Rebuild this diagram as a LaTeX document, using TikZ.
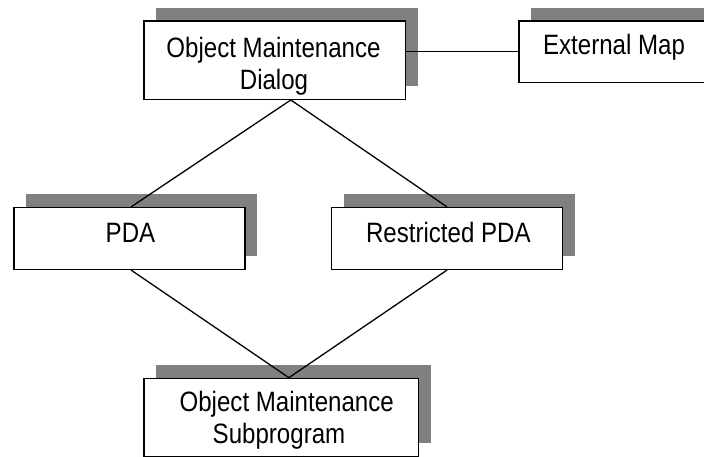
\documentclass[tikz,border=0pt]{standalone}
\usepackage{fontspec}
\setmainfont{Liberation Sans}[FakeStretch=0.86]
\usetikzlibrary{shadows}
\definecolor{shadowgray}{HTML}{808080}
\begin{document}
\begin{tikzpicture}[x=1pt,y=1pt,
  box/.style={draw=black, line width=1.3pt, fill=white, rectangle, inner sep=0pt,
    anchor=south west,
    drop shadow={shadow xshift=12.5pt, shadow yshift=13.5pt, fill=shadowgray, opacity=1}},
  conn/.style={draw=black, line width=1.3pt},
  lbl/.style={font=\fontsize{28}{33}\selectfont, anchor=base, inner sep=0pt}]
\useasboundingbox (0,0) rectangle (704,457);
\clip (0,0) rectangle (704,457);
% boxes
\node[box, minimum width=261.7pt, minimum height=78.3pt] (omd) at (143.3,357) {};
\node[box, minimum width=191.7pt, minimum height=61.6pt] (em) at (518.3,373.7) {};
\node[box, minimum width=231pt, minimum height=61.7pt] (pda) at (13.3,187) {};
\node[box, minimum width=231pt, minimum height=61.7pt] (rpda) at (331,187) {};
\node[box, minimum width=274.7pt, minimum height=78.6pt] (oms) at (143.3,-0.6) {};
% texts
\node[lbl] (omdA) at (273.5,399.7) {Object Maintenance};
\node[lbl] (omdB) at (274,367) {Dialog};
\node[lbl] (emT) at (614,402) {External Map};
\node[lbl] (pdaT) at (130.5,214.7) {PDA};
\node[lbl] (rpdaT) at (448.3,214.7) {Restricted PDA};
\node[lbl] (omsA) at (286.7,45.3) {Object Maintenance};
\node[lbl] (omsB) at (279,13) {Subprogram};
% connectors
\draw[conn] (em.west -| omd.east) -- (em.west);
\draw[conn] ([xshift=16pt]omd.south) -- ([xshift=1.5pt]pda.north);
\draw[conn] ([xshift=16pt]omd.south) -- (rpda.north);
\draw[conn] ([xshift=1.5pt]pda.south) -- ([xshift=7.6pt]oms.north);
\draw[conn] (rpda.south) -- ([xshift=7.6pt]oms.north);
\end{tikzpicture}
\end{document}
